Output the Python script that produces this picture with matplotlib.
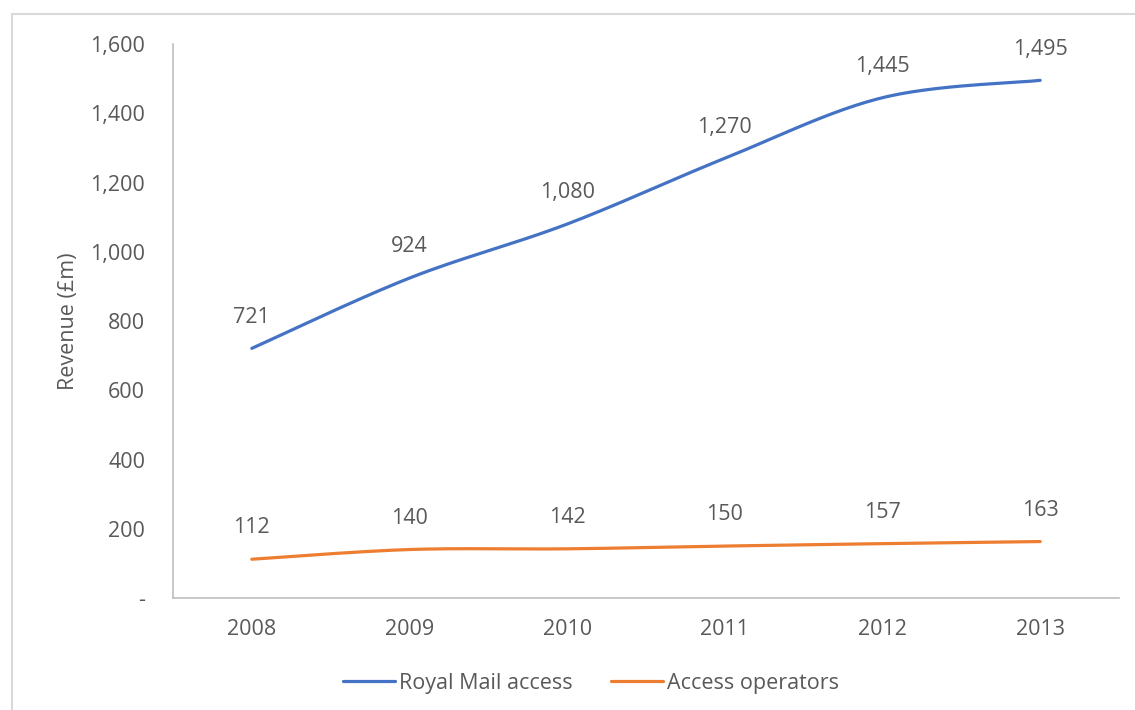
import numpy as np
import matplotlib.pyplot as plt
from matplotlib.patches import Rectangle

years = ["2008", "2009", "2010", "2011", "2012", "2013"]
royal_mail = [721, 924, 1080, 1270, 1445, 1495]
access_ops = [112, 140, 142, 150, 157, 163]
yticks = [0, 200, 400, 600, 800, 1000, 1200, 1400, 1600]
ytick_labels = ["-", "200", "400", "600", "800", "1,000", "1,200", "1,400", "1,600"]

BLUE = "#4472C4"
ORANGE = "#ED7D31"
GREY = "#595959"
FS = 15.5
plt.rcParams["font.family"] = ["Open Sans", "DejaVu Sans"]


def smooth(x, y, n=30):
    # Catmull-Rom style curve like Excel's smoothed line
    x = np.asarray(x, float)
    y = np.asarray(y, float)
    px = np.concatenate([[x[0]], x, [x[-1]]])
    py = np.concatenate([[y[0]], y, [y[-1]]])
    xs, ys = [], []
    t = np.linspace(0, 1, n)
    for i in range(1, len(px) - 2):
        p0, p1, p2, p3 = (np.array([px[j], py[j]]) for j in range(i - 1, i + 3))
        c1 = p1 + (p2 - p0) / 6
        c2 = p2 - (p3 - p1) / 6
        pts = ((1 - t) ** 3)[:, None] * p1 + (3 * (1 - t) ** 2 * t)[:, None] * c1 \
            + (3 * (1 - t) * t ** 2)[:, None] * c2 + (t ** 3)[:, None] * p2
        xs.extend(pts[:, 0])
        ys.extend(pts[:, 1])
    return xs, ys


fig = plt.figure(figsize=(11.35, 7.1), dpi=100)
fig.patches.append(Rectangle((12 / 1135, -0.01), 1.02, 1 - 14 / 710 + 0.01,
                             transform=fig.transFigure, fill=False,
                             edgecolor="#D9D9D9", linewidth=1.5))
ax = fig.add_axes([173 / 1135, 1 - 598 / 710, 946 / 1135, 554 / 710])

x = np.arange(len(years))
for vals, color, name in [(royal_mail, BLUE, "Royal Mail access"),
                          (access_ops, ORANGE, "Access operators")]:
    sx, sy = smooth(x, vals)
    ax.plot(sx, sy, color=color, linewidth=2.3, label=name, solid_capstyle="round")
    for xi, v in zip(x, vals):
        ax.annotate(f"{v:,}", (xi, v), xytext=(0, 22.5), textcoords="offset points",
                    ha="center", va="center", fontsize=FS, color=GREY)

ax.set_xlim(-0.5, len(years) - 0.5)
ax.set_ylim(0, 1600)
ax.set_xticks(x)
ax.set_xticklabels(years)
ax.set_yticks(yticks)
ax.set_yticklabels(ytick_labels)
ax.tick_params(length=0, labelsize=FS, labelcolor=GREY)
ax.tick_params(axis="y", pad=20)
ax.tick_params(axis="x", pad=15)
for s in ["top", "right"]:
    ax.spines[s].set_visible(False)
for s in ["left", "bottom"]:
    ax.spines[s].set_color("#BFBFBF")
    ax.spines[s].set_linewidth(1.2)
ax.set_ylabel("Revenue (£m)", fontsize=FS, color=GREY, labelpad=8)

ax.legend(loc="center", bbox_to_anchor=(0.442, (1 - 683 / 710 - (1 - 598 / 710)) / (554 / 710)),
          ncol=2, frameon=False, fontsize=FS, labelcolor=GREY, handlelength=2.4,
          handletextpad=0.2, columnspacing=1.8)

fig.savefig("out.png", dpi=100)
